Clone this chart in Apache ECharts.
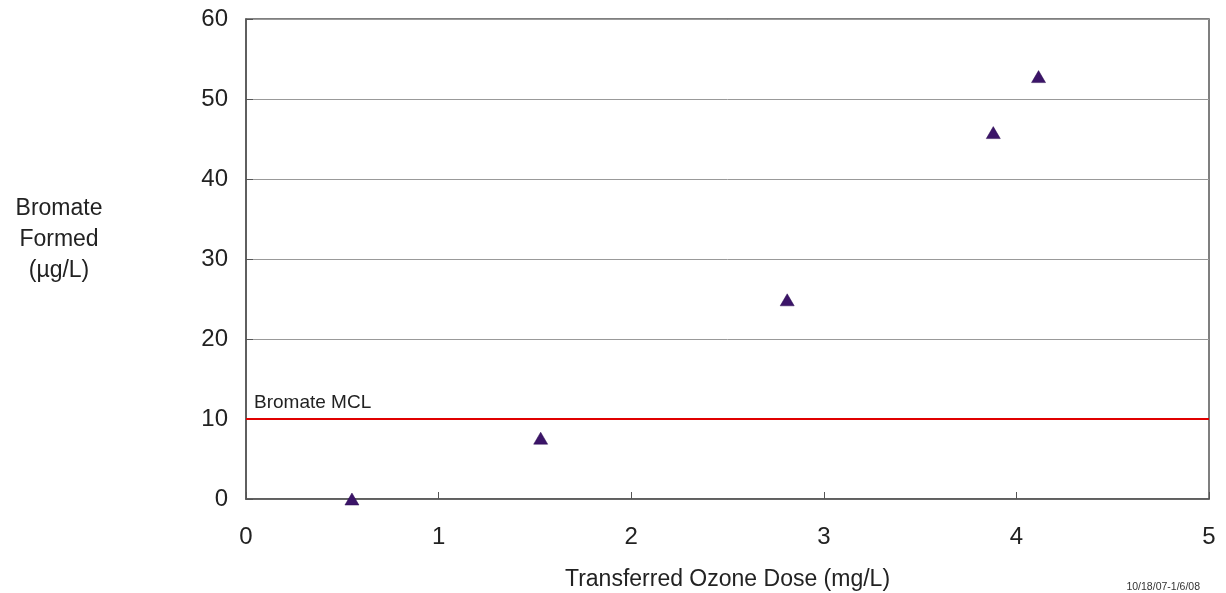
<!DOCTYPE html>
<html>
<head>
<meta charset="utf-8">
<script src="https://cdn.jsdelivr.net/npm/echarts@6/dist/echarts.min.js"></script>
<style>html,body{margin:0;padding:0;background:#fff;}#c{width:1226px;height:593px;}</style>
</head>
<body>
<div id="c"></div>
<script>
var ozoneDose = [0.55, 1.53, 2.81, 3.88, 4.115];
var bromate = [0.0, 7.6, 24.9, 45.8, 52.8];
var mclValue = 10;
var mclLabel = 'Bromate MCL';
var xTitle = 'Transferred Ozone Dose (mg/L)';
var yTitle = 'Bromate\nFormed\n(\u00b5g/L)';
var footnote = '10/18/07-1/6/08';

var pts = ozoneDose.map(function(x, i){ return [x, bromate[i]]; });
var chart = echarts.init(document.getElementById('c'), null, {renderer:'canvas'});
var font = 'Arial, "Liberation Sans", sans-serif';
chart.setOption({
  animation: false,
  backgroundColor: '#fff',
  textStyle: {fontFamily: font},
  grid: {left: 246, right: 17, top: 19, bottom: 94, show: true, borderColor: '#555', borderWidth: 1.5, containLabel: false, outerBoundsMode: 'none'},
  xAxis: {
    type: 'value', min: 0, max: 5, interval: 1,
    name: xTitle, nameLocation: 'middle', nameGap: 69,
    nameTextStyle: {fontSize: 23, color: '#222', fontFamily: font},
    axisLine: {show: true, lineStyle: {color: '#555', width: 1.5}},
    axisTick: {show: true, inside: true, length: 7, lineStyle: {color: '#555'}},
    axisLabel: {fontSize: 24, color: '#222', margin: 26, fontFamily: font},
    splitLine: {show: false}
  },
  yAxis: {
    type: 'value', min: 0, max: 60, interval: 10,
    axisLine: {show: true, lineStyle: {color: '#555', width: 1.5}},
    axisTick: {show: true, inside: true, length: 7, lineStyle: {color: '#555'}},
    axisLabel: {fontSize: 24, color: '#222', margin: 18, fontFamily: font},
    splitLine: {show: true, lineStyle: {color: '#999', width: 1}}
  },
  graphic: [
    {type: 'text', x: 59, y: 193, style: {text: yTitle, fontSize: 23, fill: '#222', align: 'center', lineHeight: 31, fontFamily: font}},
    {type: 'text', x: 1200, y: 582, style: {text: footnote, fontSize: 10.5, fill: '#333', align: 'right', fontFamily: font}}
  ],
  series: [{
    type: 'scatter',
    data: pts,
    symbol: 'triangle',
    symbolSize: [14, 12],
    itemStyle: {color: '#3b1468', opacity: 1, borderColor: '#2a0a50', borderWidth: 0.5},
    markLine: {
      silent: true,
      symbol: ['none', 'none'],
      lineStyle: {color: '#e00000', width: 2, type: 'solid'},
      label: {show: true, position: 'insideStartTop', formatter: mclLabel, fontSize: 19, color: '#222', distance: [8, 7], fontFamily: font},
      data: [{yAxis: mclValue}]
    },
    z: 5
  }]
});
</script>
</body>
</html>
